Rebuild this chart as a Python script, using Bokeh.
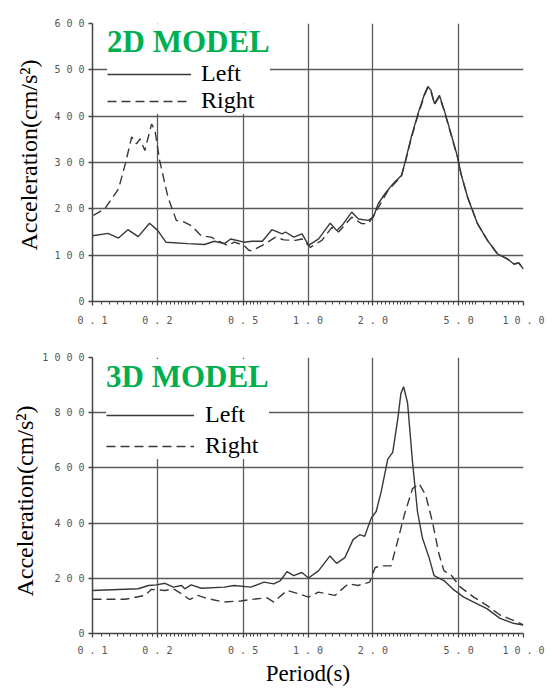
import math
from bokeh.plotting import figure
from bokeh.layouts import column
from bokeh.models import FixedTicker, Legend, LegendItem, Title
from bokeh.embed import file_html
from bokeh.resources import INLINE

# ---------------- data ----------------
x_ticks = [0.1, 0.2, 0.5, 1.0, 2.0, 5.0, 10.0]
x_tick_labels = ["0 . 1", "0 . 2", "0 . 5", "1 . 0", "2 . 0", "5 . 0", "1 0 . 0"]

y_ticks_2d = [0, 100, 200, 300, 400, 500, 600]
y_tick_labels_2d = ["0", "1 0 0", "2 0 0", "3 0 0", "4 0 0", "5 0 0", "6 0 0"]
y_ticks_3d = [0, 200, 400, 600, 800, 1000]
y_tick_labels_3d = ["0", "2 0 0", "4 0 0", "6 0 0", "8 0 0", "1 0 0 0"]

# 2D model, left (solid)
t2_left = [0.100, 0.118, 0.132, 0.146, 0.163, 0.184, 0.201, 0.219, 0.277, 0.331,
           0.368, 0.409, 0.438, 0.505, 0.55, 0.614, 0.68, 0.759, 0.786, 0.859,
           0.938, 1.007, 1.12, 1.268, 1.36, 1.46, 1.595, 1.713, 1.905, 2.01,
           2.117, 2.271, 2.438, 2.526, 2.712, 2.808, 3.015, 3.237, 3.472, 3.6,
           3.728, 3.861, 4.072, 4.294, 4.61, 4.95, 5.125, 5.503, 6.118, 6.804,
           7.566, 8.41, 9.02, 9.51, 10.0]
a2_left = [142, 147, 137, 155, 140, 169, 153, 128, 125, 123,
           130, 125, 135, 128, 130, 130, 155, 146, 150, 139,
           146, 121, 135, 169, 153, 168, 193, 178, 175, 182,
           211, 232, 250, 258, 272, 297, 355, 405, 448, 464,
           455, 427, 445, 412, 362, 311, 276, 225, 168, 132,
           103, 92, 81, 83, 70]

# 2D model, right (dashed)
t2_right = [0.101, 0.114, 0.132, 0.142, 0.152, 0.160, 0.166, 0.175, 0.188, 0.195,
            0.205, 0.224, 0.245, 0.268, 0.287, 0.319, 0.355, 0.394, 0.423, 0.455,
            0.505, 0.533, 0.552, 0.614, 0.707, 0.773, 0.874, 0.938, 1.025, 1.16,
            1.29, 1.385, 1.595, 1.774, 1.905, 2.04, 2.193, 2.354, 2.526, 2.712,
            2.808, 3.015, 3.237, 3.472, 3.6, 3.728, 3.861, 4.072, 4.294, 4.61,
            4.95, 5.125, 5.503, 6.118, 6.804, 7.566, 8.41, 9.02, 9.51, 10.0]
a2_right = [186, 200, 243, 297, 355, 340, 351, 326, 383, 369,
            304, 225, 175, 171, 164, 142, 139, 128, 121, 128,
            121, 110, 110, 121, 139, 133, 132, 135, 117, 132,
            160, 150, 182, 168, 168, 189, 215, 240, 255, 270,
            295, 352, 402, 445, 462, 452, 425, 442, 410, 360,
            310, 276, 225, 168, 132, 103, 92, 81, 83, 70]

# 3D model, left (solid)
t3_left = [0.100, 0.163, 0.182, 0.198, 0.217, 0.237, 0.259, 0.268, 0.287, 0.320,
           0.409, 0.454, 0.542, 0.625, 0.694, 0.745, 0.799, 0.858, 0.937, 1.005,
           1.118, 1.265, 1.357, 1.483, 1.619, 1.738, 1.832, 1.965, 2.072, 2.185,
           2.345, 2.472, 2.607, 2.699, 2.778, 2.898, 3.056, 3.221, 3.396, 3.646,
           3.845, 4.275, 4.752, 5.281, 5.871, 6.76, 7.78, 8.97, 9.97]
a3_left = [156, 162, 174, 176, 182, 168, 174, 162, 176, 164,
           168, 174, 168, 186, 180, 192, 224, 210, 221, 201,
           227, 281, 254, 275, 340, 358, 352, 418, 442, 513,
           632, 656, 775, 870, 894, 835, 620, 442, 346, 275,
           210, 192, 158, 132, 114, 90, 55, 37, 31]

# 3D model, right (dashed)
t3_right = [0.100, 0.142, 0.175, 0.188, 0.217, 0.237, 0.259, 0.282, 0.308, 0.343,
            0.409, 0.488, 0.582, 0.647, 0.694, 0.799, 0.904, 1.005, 1.118, 1.334,
            1.536, 1.707, 1.932, 2.05, 2.185, 2.428, 2.607, 2.799, 3.056, 3.28,
            3.517, 3.776, 4.055, 4.275, 4.584, 5.094, 5.871, 6.76, 7.78, 9.29,
            9.97]
a3_right = [124, 124, 138, 160, 156, 162, 144, 123, 138, 126,
            114, 118, 126, 129, 114, 156, 144, 132, 150, 138,
            180, 174, 186, 239, 245, 245, 335, 430, 525, 543,
            501, 406, 287, 227, 215, 168, 132, 102, 67, 43,
            31]

series_names = ["Left", "Right"]
titles = ["2D MODEL", "3D MODEL"]
y_title = "Acceleration(cm/s\u00b2)"
x_title = "Period(s)"

# ---------------- style ----------------
SERIF = "Liberation Serif"
MONO = "DejaVu Sans Mono"
GRID = "#5a5a5a"
AXIS = "#444444"
CURVE = "#383838"
GREEN = "#00b050"
DASH = "9 5"


def minor_ticks():
    base = ([1.1, 1.2, 1.3, 1.4, 1.5, 1.6, 1.7, 1.8, 1.9]
            + [2.1, 2.2, 2.3, 2.4, 2.5, 2.6, 2.7, 2.8, 2.9]
            + [3.0, 3.25, 3.5, 3.75, 4.0, 4.25, 4.5, 4.75]
            + [5.2, 5.4, 5.6, 5.8, 6.0, 6.5, 7.0, 7.5, 8.0, 8.5, 9.0, 9.5])
    out = []
    for dec in (0.1, 1.0):
        out += [round(b * dec, 4) for b in base]
    return out


def overrides(ticks, labels):
    d = {}
    for t, l in zip(ticks, labels):
        d[float(t)] = l
        s = str(t)
        if s.endswith(".0"):
            s = s[:-2]
        d[s] = l
    return d


def make_fig(height, borders, y_ticks, y_labels, x_label_standoff,
             ytitle_offset, ytitle_standoff):
    left, right, top, bottom = borders
    p = figure(width=552, height=height, x_axis_type="log",
               x_range=(0.1, 10.0), y_range=(y_ticks[0], y_ticks[-1]),
               output_backend="svg", toolbar_location=None,
               min_border_left=left, min_border_right=right,
               min_border_top=top, min_border_bottom=bottom)
    p.background_fill_color = "white"
    p.border_fill_color = "white"
    p.outline_line_color = None

    xt = FixedTicker(ticks=x_ticks, minor_ticks=minor_ticks())
    yt = FixedTicker(ticks=y_ticks, minor_ticks=[])
    p.xaxis.ticker = xt
    p.xgrid.ticker = xt
    p.yaxis.ticker = yt
    p.ygrid.ticker = yt
    p.xaxis.major_label_overrides = overrides(x_ticks, x_tick_labels)
    p.yaxis.major_label_overrides = overrides(y_ticks, y_labels)

    for ax in (p.xaxis[0], p.yaxis[0]):
        ax.axis_line_color = AXIS
        ax.axis_line_width = 1.5
        ax.major_tick_line_color = AXIS
        ax.major_tick_line_width = 1.3
        ax.major_tick_in = 0
        ax.major_tick_out = 4
        ax.major_label_text_font = MONO
        ax.major_label_text_font_size = "10px"
        ax.major_label_text_color = "#555555"
    p.xaxis.minor_tick_in = 0
    p.xaxis.minor_tick_out = 3
    p.xaxis.minor_tick_line_color = AXIS
    p.xaxis.major_label_standoff = x_label_standoff
    p.yaxis.minor_tick_line_color = None
    p.yaxis.major_label_standoff = 4

    for g in (p.xgrid[0], p.ygrid[0]):
        g.grid_line_color = GRID
        g.grid_line_width = 1.3
        g.grid_line_alpha = 1.0

    p.add_layout(Title(text=y_title, align="right", offset=ytitle_offset,
                       standoff=ytitle_standoff,
                       text_font=SERIF, text_font_size="24px",
                       text_font_style="normal", text_color="black"), "left")
    return p


def add_curves(p, tl, al, tr, ar, title, loc, pad, gw, standoff, tstand, spacing):
    r1 = p.line(tl, al, line_color=CURVE, line_width=1.4)
    r2 = p.line(tr, ar, line_color=CURVE, line_width=1.4, line_dash=DASH)
    leg = Legend(items=[LegendItem(label=series_names[0], renderers=[r1]),
                        LegendItem(label=series_names[1], renderers=[r2])],
                 title=title, location=loc, margin=0, padding=pad,
                 glyph_width=gw, glyph_height=20, label_standoff=standoff,
                 title_standoff=tstand, spacing=spacing,
                 border_line_color=None, background_fill_color="white",
                 background_fill_alpha=1.0,
                 title_text_font=SERIF, title_text_font_style="bold",
                 title_text_font_size="31px", title_text_color=GREEN,
                 label_text_font=SERIF, label_text_font_size="24px",
                 label_text_color="black")
    p.add_layout(leg)


# ---- top: 2D model ----
p1 = make_fig(330, (89, 29, 23, 29), y_ticks_2d, y_tick_labels_2d, 9, 36, 20)
add_curves(p1, t2_left, a2_left, t2_right, a2_right, titles[0],
           (15, 187), 8, 84, 10, 0, 0)

# ---- bottom: 3D model ----
p2 = make_fig(358, (92, 25, 27, 51), y_ticks_3d, y_tick_labels_3d, 7, 48, 4)
add_curves(p2, t3_left, a3_left, t3_right, a3_right, titles[1],
           (14, 174), 9, 88, 11, 6, 4)
p2.xaxis.axis_label = x_title
p2.xaxis.axis_label_text_font = SERIF
p2.xaxis.axis_label_text_font_size = "23px"
p2.xaxis.axis_label_text_font_style = "normal"
p2.xaxis.axis_label_text_color = "black"
p2.xaxis.axis_label_standoff = 2

layout = column(p1, p2)
open("out.html", "w").write(file_html(layout, INLINE))
